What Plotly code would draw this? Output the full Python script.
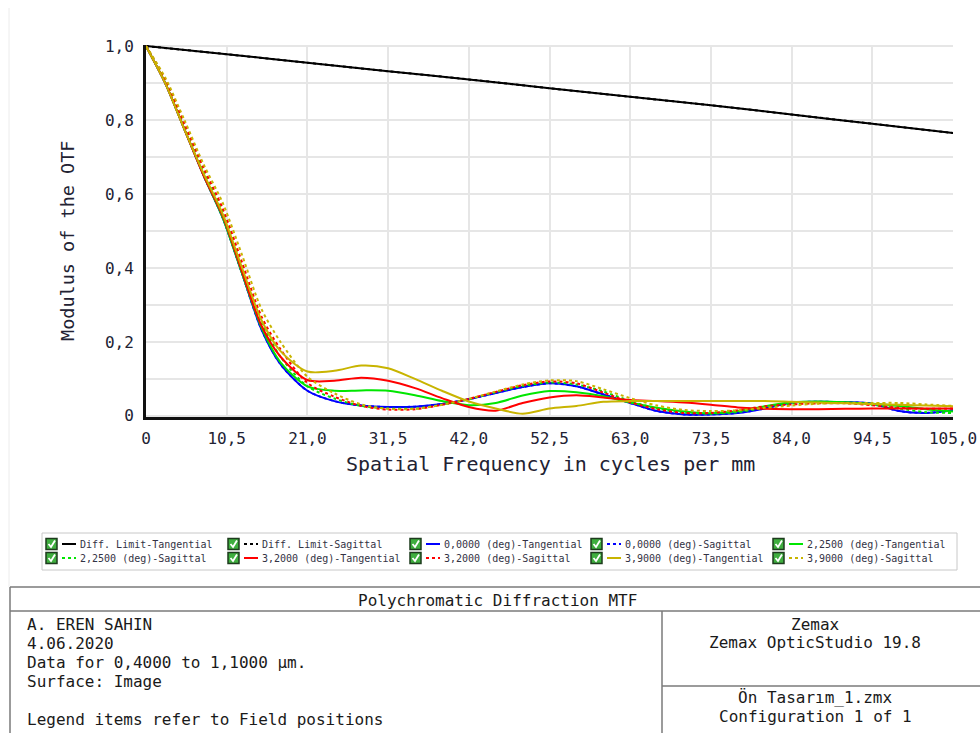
import plotly.graph_objects as go

# ---------------------------------------------------------------- data
freq = [0, 2.5, 5, 7.5, 10, 12.5, 15, 17.5, 21, 24.5, 28, 31.5, 35, 38.5, 42,
        45.5, 49, 52.5, 56, 59.5, 63, 66.5, 70, 73.5, 77, 80.5, 84, 87.5, 91,
        94.5, 98, 101.5, 105]

diff_freq = [0, 10.5, 21, 31.5, 42, 52.5, 63, 73.5, 84, 94.5, 105]
diff_tan = [1.0, 0.978, 0.955, 0.932, 0.910, 0.886, 0.863, 0.840, 0.815, 0.790, 0.765]
diff_sag = [1.0, 0.978, 0.955, 0.932, 0.910, 0.886, 0.863, 0.840, 0.815, 0.790, 0.765]

f0_tan = [1.0, 0.90, 0.775, 0.65, 0.535, 0.385, 0.235, 0.140, 0.068, 0.040, 0.028,
          0.024, 0.025, 0.032, 0.045, 0.062, 0.078, 0.088, 0.080, 0.058, 0.035,
          0.013, 0.004, 0.004, 0.008, 0.020, 0.036, 0.038, 0.037, 0.033, 0.013,
          0.008, 0.015]
f0_sag = [1.0, 0.90, 0.775, 0.65, 0.535, 0.385, 0.235, 0.140, 0.068, 0.040, 0.028,
          0.024, 0.025, 0.032, 0.045, 0.062, 0.078, 0.088, 0.080, 0.058, 0.035,
          0.013, 0.004, 0.004, 0.008, 0.020, 0.036, 0.038, 0.037, 0.033, 0.013,
          0.008, 0.015]
f225_tan = [1.0, 0.90, 0.775, 0.65, 0.535, 0.385, 0.240, 0.145, 0.080, 0.068, 0.069,
            0.068, 0.056, 0.040, 0.029, 0.035, 0.055, 0.067, 0.064, 0.053, 0.036,
            0.022, 0.012, 0.007, 0.013, 0.026, 0.037, 0.039, 0.037, 0.033, 0.027,
            0.018, 0.012]
f225_sag = [1.0, 0.905, 0.78, 0.66, 0.55, 0.40, 0.255, 0.160, 0.080, 0.047, 0.027,
            0.020, 0.020, 0.030, 0.045, 0.064, 0.081, 0.090, 0.085, 0.066, 0.040,
            0.020, 0.009, 0.006, 0.010, 0.022, 0.033, 0.037, 0.036, 0.030, 0.020,
            0.010, 0.008]
f32_tan = [1.0, 0.90, 0.775, 0.65, 0.54, 0.39, 0.245, 0.160, 0.097, 0.095, 0.103,
           0.095, 0.075, 0.048, 0.024, 0.014, 0.035, 0.050, 0.056, 0.050, 0.043,
           0.040, 0.036, 0.030, 0.023, 0.019, 0.018, 0.018, 0.019, 0.020, 0.020,
           0.020, 0.020]
f32_sag = [1.0, 0.91, 0.79, 0.67, 0.56, 0.415, 0.270, 0.180, 0.089, 0.052, 0.027,
           0.017, 0.018, 0.030, 0.046, 0.065, 0.083, 0.093, 0.088, 0.063, 0.037,
           0.018, 0.008, 0.008, 0.015, 0.026, 0.031, 0.034, 0.034, 0.029, 0.022,
           0.019, 0.020]
f39_tan = [1.0, 0.90, 0.775, 0.655, 0.545, 0.40, 0.260, 0.175, 0.120, 0.122, 0.136,
           0.129, 0.100, 0.068, 0.039, 0.020, 0.006, 0.020, 0.027, 0.038, 0.040,
           0.040, 0.040, 0.040, 0.040, 0.040, 0.038, 0.036, 0.034, 0.032, 0.030,
           0.028, 0.026]
f39_sag = [1.0, 0.915, 0.80, 0.68, 0.575, 0.435, 0.290, 0.200, 0.106, 0.061, 0.031,
           0.019, 0.019, 0.030, 0.046, 0.066, 0.085, 0.096, 0.094, 0.072, 0.048,
           0.028, 0.016, 0.013, 0.015, 0.022, 0.028, 0.033, 0.035, 0.035, 0.035,
           0.031, 0.027]

x_tickvals = [0, 10.5, 21, 31.5, 42, 52.5, 63, 73.5, 84, 94.5, 105]
x_ticktext = ["0", "10,5", "21,0", "31,5", "42,0", "52,5", "63,0", "73,5",
              "84,0", "94,5", "105,0"]
y_tickvals = [0, 0.1, 0.2, 0.3, 0.4, 0.5, 0.6, 0.7, 0.8, 0.9, 1.0]
y_ticktext = ["0", "", "0,2", "", "0,4", "", "0,6", "", "0,8", "", "1,0"]

series_names = ["Diff. Limit-Tangential", "Diff. Limit-Sagittal",
                "0,0000 (deg)-Tangential", "0,0000 (deg)-Sagittal",
                "2,2500 (deg)-Tangential", "2,2500 (deg)-Sagittal",
                "3,2000 (deg)-Tangential", "3,2000 (deg)-Sagittal",
                "3,9000 (deg)-Tangential", "3,9000 (deg)-Sagittal"]
series_x = [diff_freq, diff_freq] + [freq] * 8
series_y = [diff_tan, diff_sag, f0_tan, f0_sag, f225_tan, f225_sag,
            f32_tan, f32_sag, f39_tan, f39_sag]

header_left = ["A. EREN SAHIN", "4.06.2020", "Data for 0,4000 to 1,1000 µm.",
               "Surface: Image"]
footer_left = "Legend items refer to Field positions"
header_right = ["Zemax", "Zemax OpticStudio 19.8"]
footer_right = ["Ön Tasarım_1.zmx", "Configuration 1 of 1"]
chart_title = "Polychromatic Diffraction MTF"

# ---------------------------------------------------------------- styling
colors = ["#000000", "#000000", "#0000ff", "#0000ff", "#00e600", "#00e600",
          "#ff0000", "#ff0000", "#c8b400", "#c8b400"]
dashes = ["solid", "dot"] * 5
MONO = "DejaVu Sans Mono"

W, H = 980, 733
PL, PR, PT, PB = 146, 953, 45, 417


def px(x):
    return (x - PL) / (PR - PL)


def py(y):
    return (PB - y) / (PB - PT)


fig = go.Figure()
order = [1, 0, 2, 3, 4, 5, 6, 7, 8, 9]
for i in order:
    fig.add_trace(go.Scatter(
        x=series_x[i], y=series_y[i], mode="lines", name=series_names[i],
        line=dict(color=colors[i], width=2, dash=dashes[i],
                  shape="spline", smoothing=0.8),
        showlegend=False, hoverinfo="x+y+name"))

fig.update_layout(
    width=W, height=H,
    margin=dict(l=PL, r=W - PR, t=PT, b=H - PB, autoexpand=False),
    paper_bgcolor="white", plot_bgcolor="white",
    font=dict(family=MONO, color="#222233"),
    xaxis=dict(range=[0, 105], tickvals=x_tickvals, ticktext=x_ticktext,
               showgrid=True, gridcolor="#e6e6e6", gridwidth=2,
               showline=True, linecolor="#111111", linewidth=3,
               ticks="", ticklabelstandoff=5, zeroline=False, automargin=False,
               tickfont=dict(family=MONO, size=16, color="#222233")),
    yaxis=dict(range=[-0.003, 1.003], tickvals=y_tickvals, ticktext=y_ticktext,
               showgrid=True, gridcolor="#e6e6e6", gridwidth=2,
               showline=True, linecolor="#111111", linewidth=3,
               ticks="", ticklabelstandoff=6, zeroline=False, automargin=False,
               tickfont=dict(family=MONO, size=16, color="#222233")),
)

annotations = []
shapes = []

# axis titles
annotations.append(dict(text="Spatial Frequency in cycles per mm", x=px(550), y=py(464),
                        xref="paper", yref="paper", showarrow=False,
                        font=dict(family=MONO, size=20, color="#222233"),
                        xanchor="center", yanchor="middle"))
annotations.append(dict(text="Modulus of the OTF", x=px(67), y=py(241),
                        xref="paper", yref="paper", showarrow=False, textangle=-90,
                        font=dict(family=MONO, size=18.5, color="#222233"),
                        xanchor="center", yanchor="middle"))

# legend box with check boxes
shapes.append(dict(type="rect", xref="paper", yref="paper",
                   x0=px(42), x1=px(957), y0=py(533), y1=py(570),
                   line=dict(color="#c8c8c8", width=1), fillcolor="white"))
col_x = [46, 228, 410, 591, 773]
row_y = [544, 558]
for k, name in enumerate(series_names):
    cx = col_x[k % 5]
    cy = row_y[k // 5]
    shapes.append(dict(type="rect", xref="paper", yref="paper",
                       x0=px(cx), x1=px(cx + 11), y0=py(cy - 5.5), y1=py(cy + 5.5),
                       line=dict(color="#1d3b1d", width=1.5), fillcolor="#3fae3f"))
    shapes.append(dict(type="path", xref="paper", yref="paper",
                       path=f"M {px(cx + 2.5)} {py(cy)} L {px(cx + 5)} {py(cy + 3)} "
                            f"L {px(cx + 9)} {py(cy - 3.5)}",
                       line=dict(color="white", width=1.8)))
    shapes.append(dict(type="line", xref="paper", yref="paper",
                       x0=px(cx + 16), x1=px(cx + 30), y0=py(cy), y1=py(cy),
                       line=dict(color=colors[k], width=2, dash=dashes[k])))
    annotations.append(dict(text=name, x=px(cx + 32), y=py(cy), xref="paper", yref="paper",
                            showarrow=False, xanchor="left", yanchor="middle",
                            font=dict(family=MONO, size=10, color="#333344")))

# frame line at the left of the window
shapes.append(dict(type="line", xref="paper", yref="paper",
                   x0=px(9), x1=px(9), y0=py(8), y1=py(587),
                   line=dict(color="#ececec", width=1)))

# info table
tbl = dict(color="#7a7a7a", width=1.5)
shapes += [
    dict(type="line", xref="paper", yref="paper", x0=px(10), x1=px(982), y0=py(587), y1=py(587), line=tbl),
    dict(type="line", xref="paper", yref="paper", x0=px(10), x1=px(982), y0=py(611), y1=py(611), line=tbl),
    dict(type="line", xref="paper", yref="paper", x0=px(10), x1=px(10), y0=py(587), y1=py(735), line=tbl),
    dict(type="line", xref="paper", yref="paper", x0=px(662), x1=px(662), y0=py(611), y1=py(735), line=tbl),
    dict(type="line", xref="paper", yref="paper", x0=px(662), x1=px(982), y0=py(686), y1=py(686), line=tbl),
]
tfont = dict(family=MONO, size=16, color="#1a1a1a")
annotations.append(dict(text=chart_title, x=px(497), y=py(600), xref="paper", yref="paper",
                        showarrow=False, xanchor="center", yanchor="middle", font=tfont))
for j, line in enumerate(header_left):
    annotations.append(dict(text=line, x=px(25), y=py(624 + 19 * j), xref="paper", yref="paper",
                            showarrow=False, xanchor="left", yanchor="middle", font=tfont))
annotations.append(dict(text=footer_left, x=px(25), y=py(719), xref="paper", yref="paper",
                        showarrow=False, xanchor="left", yanchor="middle", font=tfont))
for j, line in enumerate(header_right):
    annotations.append(dict(text=line, x=px(815), y=py(624 + 18 * j), xref="paper", yref="paper",
                            showarrow=False, xanchor="center", yanchor="middle", font=tfont))
for j, line in enumerate(footer_right):
    annotations.append(dict(text=line, x=px(815), y=py(697 + 19 * j), xref="paper", yref="paper",
                            showarrow=False, xanchor="center", yanchor="middle", font=tfont))

fig.update_layout(annotations=annotations, shapes=shapes)
fig.write_html("out.html")
